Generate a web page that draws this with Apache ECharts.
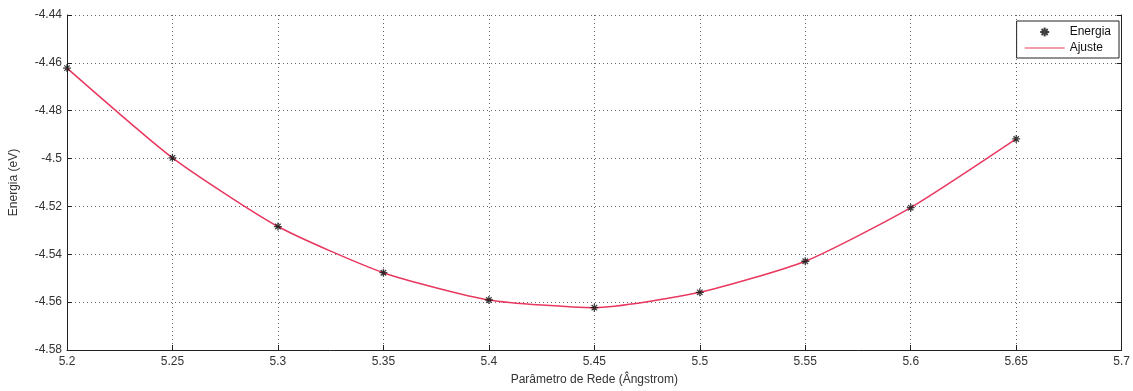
<!DOCTYPE html>
<html style="height: 100%">
<head>
	<meta charset="utf-8">
	<script src="https://cdn.jsdelivr.net/npm/echarts@6/dist/echarts.min.js"></script>
</head>
<body style="height: 100%; margin: 0; background: #fff">
	<div id="container" style="width: 1133px; height: 391px;"></div>
	<script type="text/javascript">
		// Parametro de rede (Angstrom) e energia (eV)
		let parametro = [5.2, 5.25, 5.3, 5.35, 5.4, 5.45, 5.5, 5.55, 5.6, 5.65];
		let energia = [-4.4622, -4.4997, -4.5284, -4.5477, -4.5591, -4.5623, -4.5559, -4.5429, -4.5205, -4.4918];
		let legendData = ['Energia', 'Ajuste'];

		let dom = document.getElementById("container");
		let myChart = echarts.init(dom);

		let pontos = [];
		for (let i in parametro) {
			pontos.push([parametro[i], energia[i]]);
		}

		let fonte = 'Liberation Sans, Arial, sans-serif';
		let asterisco = 'path://M5,0L5,10M0,5L10,5M1.6,1.6L8.4,8.4M8.4,1.6L1.6,8.4';
		let traco = 'path://M0,0L40,0L40,1.2L0,1.2Z';

		let option = {
			animation: false,
			backgroundColor: '#fff',
			grid: { left: 65, right: 9, top: 15, bottom: 39 },
			legend: {
				data: [
					{ name: legendData[0] },
					{ name: legendData[1], icon: traco, itemStyle: { color: '#e8385f' } }
				],
				right: 14,
				top: 21,
				orient: 'vertical',
				backgroundColor: '#fff',
				borderColor: '#222',
				borderWidth: 1,
				padding: [5, 8, 4, 8],
				itemGap: 4,
				itemWidth: 40,
				itemHeight: 9,
				textStyle: { fontFamily: fonte, fontSize: 12, color: '#111' }
			},
			xAxis: {
				type: 'value',
				min: 5.2,
				max: 5.7,
				interval: 0.05,
				name: 'Parâmetro de Rede (Ângstrom)',
				nameLocation: 'middle',
				nameGap: 24,
				nameTextStyle: { fontFamily: fonte, fontSize: 12, color: '#333' },
				axisLine: { lineStyle: { color: '#222', width: 1 } },
				axisTick: { inside: true, length: 5, lineStyle: { color: '#222' } },
				axisLabel: {
					fontFamily: fonte, fontSize: 12, color: '#333', margin: 6,
					formatter: function (v) { return String(parseFloat(v.toFixed(2))); }
				},
				splitLine: { show: true, lineStyle: { type: [1, 3], color: '#666', width: 1 } }
			},
			yAxis: [
				{
					type: 'value',
					min: -4.58,
					max: -4.44,
					interval: 0.02,
					name: 'Energia (eV)',
					nameLocation: 'middle',
					nameGap: 47,
					nameTextStyle: { fontFamily: fonte, fontSize: 12, color: '#333' },
					axisLine: { show: true, lineStyle: { color: '#222', width: 1 } },
					axisTick: { show: true, inside: true, length: 5, lineStyle: { color: '#222' } },
					axisLabel: {
						fontFamily: fonte, fontSize: 12, color: '#333', margin: 5,
						formatter: function (v) { return String(parseFloat(v.toFixed(2))); }
					},
					splitLine: { show: true, lineStyle: { type: [1, 3], color: '#666', width: 1 } }
				},
				{
					type: 'value',
					position: 'right',
					min: -4.58,
					max: -4.44,
					interval: 0.02,
					axisLine: { show: true, lineStyle: { color: '#222', width: 1 } },
					axisTick: { show: true, inside: true, length: 5, lineStyle: { color: '#222' } },
					axisLabel: { show: false },
					splitLine: { show: false }
				}
			],
			series: [
				{
					name: 'Energia',
					type: 'scatter',
					symbol: asterisco,
					symbolSize: 8,
					itemStyle: { color: 'rgba(0,0,0,0)', borderColor: '#111', borderWidth: 1.3 },
					data: pontos,
					z: 3
				},
				{
					name: 'Ajuste',
					type: 'line',
					symbol: 'none',
					smooth: 0.2,
					lineStyle: { color: '#e8385f', width: 1.5 },
					itemStyle: { color: '#e8385f' },
					data: pontos,
					z: 2
				}
			]
		};

		myChart.setOption(option);
	</script>
</body>
</html>
